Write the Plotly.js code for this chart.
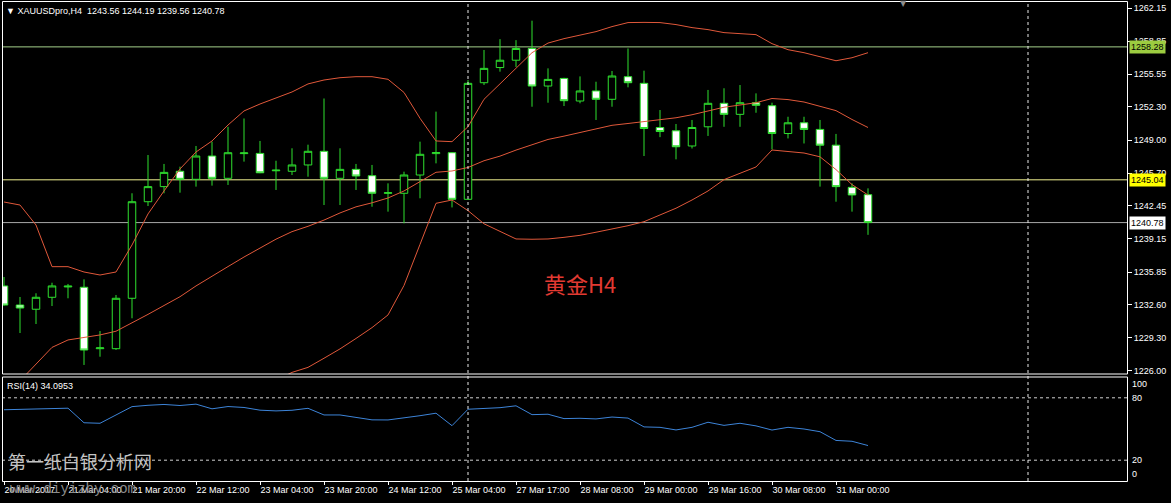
<!DOCTYPE html>
<html><head><meta charset="utf-8">
<script src="https://cdn.plot.ly/plotly-3.0.1.min.js"></script>
<style>html,body{margin:0;padding:0;background:#000;overflow:hidden}#chart{width:1171px;height:503px}</style>
</head><body><div id="chart"></div>
<script>
// ---------- DATA ----------
const headerText = '▼ XAUUSDpro,H4  1243.56 1244.19 1239.56 1240.78';
const rsiText = 'RSI(14) 34.0953';
const chartLabel = '黄金H4';
const watermark1 = '第一纸白银分析网';
const watermark2 = 'www.diyizby.com';

const open  = [1234.47,1232.57,1232.15,1233.34,1234.37,1234.34,1228.22,1228.22,1233.24,1242.86,
               1244.36,1245.89,1245.09,1247.41,1245.19,1247.65,1247.67,1245.94,1245.89,1246.52,
               1247.88,1245.19,1246.08,1245.45,1243.70,1243.70,1245.52,1247.65,1247.74,1243.10,
               1254.71,1256.22,1256.95,1258.12,1254.38,1255.14,1252.89,1253.89,1253.06,1255.31,
               1254.65,1250.25,1249.92,1248.41,1250.32,1252.66,1251.56,1252.72,1252.42,1249.65,
               1250.72,1250.06,1248.49,1244.29,1243.56];
const high  = [1235.36,1233.37,1233.74,1234.79,1234.67,1235.13,1229.98,1233.57,1243.70,1247.51,
               1246.62,1246.35,1248.41,1248.84,1250.32,1251.15,1248.91,1246.94,1248.18,1248.54,
               1253.14,1248.18,1246.62,1246.52,1244.69,1245.85,1248.84,1251.83,1247.80,1254.98,
               1257.97,1259.05,1258.95,1260.89,1256.14,1255.20,1255.34,1254.81,1255.88,1258.12,
               1255.91,1251.99,1250.60,1251.00,1253.99,1254.16,1254.48,1253.65,1252.72,1251.32,
               1251.32,1251.00,1249.61,1244.69,1244.19];
const low   = [1232.50,1229.78,1230.68,1232.47,1233.24,1226.60,1227.42,1228.10,1231.25,1242.43,
               1243.70,1243.76,1244.36,1244.46,1244.53,1246.85,1245.70,1244.03,1245.52,1245.35,
               1242.53,1242.53,1244.03,1242.36,1241.87,1240.71,1243.20,1246.68,1242.29,1243.05,
               1254.48,1255.81,1256.28,1252.32,1252.72,1252.39,1252.66,1251.00,1252.32,1254.25,
               1247.41,1249.29,1247.08,1248.16,1249.41,1250.32,1250.32,1251.72,1248.06,1249.16,
               1248.66,1244.36,1242.86,1241.87,1239.56];
const close = [1232.57,1232.27,1233.34,1234.47,1234.45,1228.09,1228.30,1233.24,1242.86,1244.36,
               1245.78,1245.09,1247.41,1245.19,1247.74,1247.72,1245.74,1246.00,1246.52,1247.88,
               1245.19,1246.08,1245.42,1243.70,1243.75,1245.52,1247.58,1247.75,1243.10,1254.65,
               1256.14,1256.95,1258.12,1254.38,1255.04,1252.92,1253.89,1253.06,1255.38,1254.71,
               1250.15,1249.85,1248.33,1250.25,1252.66,1251.56,1252.72,1252.46,1249.65,1250.72,
               1250.06,1248.49,1244.36,1243.53,1240.78];

const bbUpper = [1242.83,1242.53,1240.54,1236.39,1236.39,1235.86,1235.56,1235.86,1238.55,1241.64,
                 1243.93,1246.12,1247.81,1248.91,1250.50,1251.90,1252.59,1253.19,1253.79,1254.59,
                 1254.98,1255.21,1255.31,1255.31,1255.05,1253.74,1251.17,1248.91,1248.84,1250.33,
                 1253.06,1254.60,1256.15,1257.70,1258.66,1259.10,1259.45,1259.80,1260.30,1260.70,
                 1260.72,1260.70,1260.50,1260.20,1260.00,1259.70,1259.60,1259.50,1258.60,1258.00,
                 1257.70,1257.30,1256.90,1257.20,1257.70];
const bbMid   = [1223.35,1225.05,1226.73,1228.35,1229.09,1229.35,1229.59,1229.96,1230.76,1231.64,
                 1232.52,1233.40,1234.47,1235.46,1236.40,1237.35,1238.26,1239.13,1239.88,1240.41,
                 1241.03,1241.74,1242.35,1242.75,1243.23,1243.93,1244.86,1245.79,1245.92,1246.27,
                 1246.94,1247.40,1248.00,1248.54,1249.06,1249.39,1249.75,1250.09,1250.47,1250.65,
                 1250.84,1251.02,1251.22,1251.52,1251.88,1252.27,1252.49,1252.72,1253.14,1253.03,
                 1252.79,1252.39,1251.93,1251.05,1250.25];
const bbLower = [1203.87,1207.57,1212.92,1220.31,1221.79,1222.84,1223.62,1224.06,1222.97,1221.64,
                 1221.11,1220.68,1221.13,1222.01,1222.30,1222.80,1223.93,1225.07,1225.86,1226.36,
                 1227.27,1228.20,1229.24,1230.32,1231.58,1234.52,1238.61,1242.70,1243.03,1241.97,
                 1240.66,1239.90,1239.15,1239.12,1239.15,1239.31,1239.51,1239.82,1240.14,1240.47,
                 1240.87,1241.52,1242.21,1243.03,1243.93,1245.06,1245.68,1246.32,1248.01,1247.86,
                 1247.71,1247.33,1246.06,1244.56,1243.53];
const rsi = [68.5,69.0,69.5,69.8,70.0,56.0,55.5,63.5,71.5,72.8,
             73.6,72.6,73.9,69.4,71.6,70.7,68.1,67.4,68.0,69.9,
             63.5,63.5,61.5,58.8,58.7,60.5,62.8,65.2,53.2,69.0,
             70.0,70.5,72.3,63.8,64.2,60.0,60.3,59.7,61.5,60.5,
             52.0,51.6,49.1,51.6,56.5,53.5,55.5,53.0,49.0,51.6,
             50.0,47.4,39.0,38.2,34.1];

const timeTickBars  = [0,4,8,12,16,20,24,28,32,36,40,44,48,52];
const timeTickText  = ['20 Mar 2017','21 Mar 04:00','21 Mar 20:00','22 Mar 12:00','23 Mar 04:00',
                       '23 Mar 20:00','24 Mar 12:00','25 Mar 04:00','27 Mar 17:00','28 Mar 08:00',
                       '29 Mar 00:00','29 Mar 16:00','30 Mar 08:00','31 Mar 00:00'];
const priceTicks = [1262.15,1258.85,1255.55,1252.30,1249.00,1245.70,1242.45,1239.15,1235.85,1232.60,1229.30,1226.00];
const levelLines = [1258.28, 1245.04, 1240.78];
const rsiLevels = [80, 20];
const rsiScaleLabels = [100, 80, 20, 0];
const separatorBars = [29, 64];

// ---------- STYLE / LAYOUT ----------
const W = 1171, H = 503, ML = 2, MR = 44, MT = 2, MB = 22;
const PW = W - ML - MR, PH = H - MT - MB;
const px2x = X => (X - ML) / PW;
const px2y = Y => (H - MB - Y) / PH;
const mainDomain = [px2y(374), 1];
const rsiDomain = [0, px2y(377)];
const FONT = 'Liberation Sans, Arial, sans-serif';
const GREEN = '#2fe02f';
const BAND = '#e0583a';

const xs = open.map((_, i) => i);

const traces = [
  {type:'scatter', mode:'lines', x:xs, y:bbUpper, line:{color:BAND, width:1}, hoverinfo:'skip', xaxis:'x', yaxis:'y'},
  {type:'scatter', mode:'lines', x:xs, y:bbMid, line:{color:BAND, width:1}, hoverinfo:'skip', xaxis:'x', yaxis:'y'},
  {type:'scatter', mode:'lines', x:xs, y:bbLower, line:{color:BAND, width:1}, hoverinfo:'skip', xaxis:'x', yaxis:'y'},
  {type:'candlestick', x:xs, open:open, high:high, low:low, close:close, xaxis:'x', yaxis:'y',
   increasing:{line:{color:GREEN, width:1}, fillcolor:'#000000'},
   decreasing:{line:{color:GREEN, width:1}, fillcolor:'#ffffff'},
   whiskerwidth:0, hoverinfo:'skip'},
  {type:'scatter', mode:'lines', x:xs, y:rsi, line:{color:'#3d84d8', width:1}, hoverinfo:'skip', xaxis:'x', yaxis:'y2'}
];

const shapes = [];
const levelColors = ['#a4d08a', '#f2f290', '#a8a8a8'];
levelLines.forEach((v, i) => shapes.push({type:'line', xref:'paper', yref:'y', x0:0, x1:1, y0:v, y1:v,
  line:{color:levelColors[i], width:1}, layer:'below'}));
rsiLevels.forEach(v => shapes.push({type:'line', xref:'paper', yref:'y2', x0:0, x1:1, y0:v, y1:v,
  line:{color:'#d0d0d0', width:1, dash:'3px,3px'}}));
separatorBars.forEach(b => shapes.push({type:'line', xref:'x', yref:'paper', x0:b, x1:b, y0:0, y1:1,
  line:{color:'#e8e8e8', width:1, dash:'3px,3px'}}));
shapes.push({type:'rect', xref:'paper', yref:'paper', x0:px2x(2.5), x1:px2x(1127.5), y0:mainDomain[0], y1:px2y(1.5), line:{color:'#ffffff', width:1}});
shapes.push({type:'rect', xref:'paper', yref:'paper', x0:px2x(2.5), x1:px2x(1127.5), y0:px2y(481.5), y1:rsiDomain[1], line:{color:'#ffffff', width:1}});

const annotations = [];
const lvlBg = ['#9ccc40', '#ffff00', '#ffffff'];
levelLines.forEach((v, i) => annotations.push({xref:'paper', yref:'y', x:px2x(1128.5), y:v, xanchor:'left', yanchor:'middle',
  text:v.toFixed(2), showarrow:false, bgcolor:lvlBg[i], borderpad:1, font:{family:FONT, size:9, color:'#000'}}));
const rsiLabelY = {100:384, 80:398, 20:460, 0:474};
rsiScaleLabels.forEach(v => annotations.push({xref:'paper', yref:'paper', x:px2x(1130), y:px2y(rsiLabelY[v]),
  xanchor:'left', yanchor:'middle', text:String(v), showarrow:false, font:{family:FONT, size:9, color:'#fff'}}));
annotations.push({xref:'paper', yref:'paper', x:px2x(4), y:px2y(11), xanchor:'left', yanchor:'middle', text:headerText,
  showarrow:false, font:{family:FONT, size:9, color:'#fff'}});
annotations.push({xref:'paper', yref:'paper', x:px2x(5), y:px2y(386), xanchor:'left', yanchor:'middle', text:rsiText,
  showarrow:false, font:{family:FONT, size:9, color:'#fff'}});
annotations.push({xref:'paper', yref:'paper', x:px2x(903), y:px2y(4), xanchor:'center', yanchor:'middle', text:'▼',
  showarrow:false, font:{family:'DejaVu Sans', size:8, color:'#8c8c8c'}});
annotations.push({xref:'paper', yref:'paper', x:px2x(542), y:px2y(283), xanchor:'left', yanchor:'middle', text:chartLabel,
  showarrow:false, font:{family:'Noto Sans CJK SC', size:22, color:'#e23a32'}});
annotations.push({xref:'paper', yref:'paper', x:px2x(6), y:px2y(461), xanchor:'left', yanchor:'middle', text:watermark1,
  showarrow:false, font:{family:'Noto Sans CJK SC', size:18, color:'#c4c4c4'}});
annotations.push({xref:'paper', yref:'paper', x:px2x(8), y:px2y(489), xanchor:'left', yanchor:'middle', text:watermark2,
  showarrow:false, font:{family:'Liberation Mono, monospace', size:14, color:'#8c8c8c'}});

const layout = {
  width:W, height:H, margin:{l:ML, r:MR, t:MT, b:MB, pad:0},
  paper_bgcolor:'#000', plot_bgcolor:'#000', showlegend:false, boxgap:0.33,
  xaxis:{type:'linear', range:[-0.125, 70.1875], domain:[0,1], anchor:'y2', showgrid:false, zeroline:false,
    rangeslider:{visible:false}, tickvals:timeTickBars, ticktext:timeTickText, ticks:'outside', ticklen:3,
    tickcolor:'#fff', ticklabelposition:'outside right', tickfont:{family:FONT, size:9, color:'#fff'}, showline:false, fixedrange:true},
  yaxis:{domain:mainDomain, range:[1225.70, 1262.75], side:'right', anchor:'x', showgrid:false, zeroline:false,
    tickvals:priceTicks, ticktext:priceTicks.map(v => v.toFixed(2)), ticks:'outside', ticklen:4, tickcolor:'#fff',
    tickfont:{family:FONT, size:9, color:'#fff'}, showline:false},
  yaxis2:{domain:rsiDomain, range:[0,100], side:'right', anchor:'x', showgrid:false, zeroline:false, showticklabels:false, ticks:''},
  shapes:shapes, annotations:annotations
};

Plotly.newPlot('chart', traces, layout, {staticPlot:true, displayModeBar:false});
</script>
</body></html>
